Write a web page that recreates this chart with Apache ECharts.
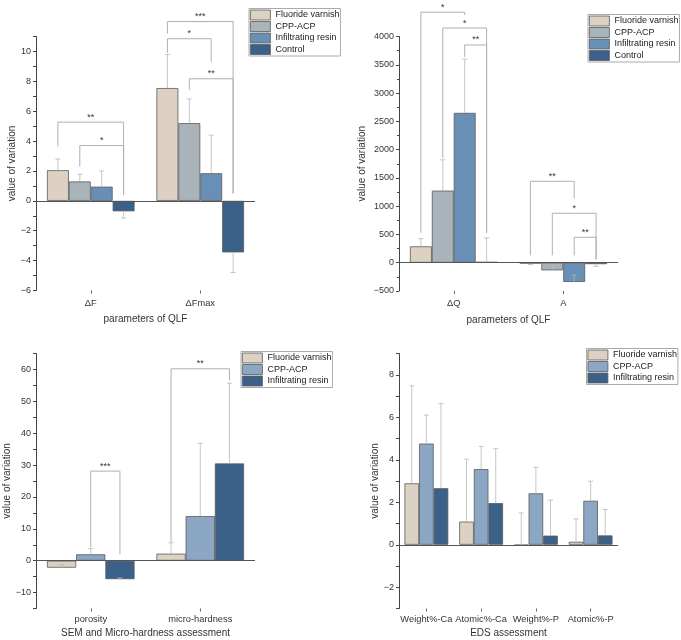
<!DOCTYPE html>
<html>
<head>
<meta charset="utf-8">
<script src="https://cdn.jsdelivr.net/npm/echarts@6/dist/echarts.min.js"></script>
<style>
html, body { margin: 0; padding: 0; background: #fff; }
#main { width: 681px; height: 640px; }
</style>
</head>
<body>
<div id="main"></div>
<script>
// ---- data ----
// panel 1: QLF (ΔF, ΔFmax)
var qlfCats1 = ['ΔF', 'ΔFmax'];
var qlf1FV = [2.05, 7.55];
var qlf1CPP = [1.3, 5.2];
var qlf1IR = [0.95, 1.85];
var qlf1Ctrl = [-0.7, -3.45];
var qlf1FVErr = [2.8, 9.8];
var qlf1CPPErr = [1.78, 6.82];
var qlf1IRErr = [2.0, 4.4];
var qlf1CtrlErr = [-1.15, -4.8];
// [category, left bar, right bar, top, left foot, right foot]
var qlf1Brackets = [[0, 0, 3, 5.27, 3.64, 0.4], [0, 1, 3, 3.7, 2.3, 0.4], [1, 0, 3, 12.0, 11.2, 0.5], [1, 0, 2, 10.85, 9.9, 9.3], [1, 1, 3, 8.17, 7.43, 0.5]];
var qlf1Stars = ['**', '*', '***', '*', '**'];

// panel 2: QLF (ΔQ, A)
var qlfCats2 = ['ΔQ', 'A'];
var qlf2FV = [290, -15];
var qlf2CPP = [1275, -135];
var qlf2IR = [2650, -340];
var qlf2Ctrl = [15, -25];
var qlf2FVErr = [425, -30];
var qlf2CPPErr = [1820, -80];
var qlf2IRErr = [3600, -218];
var qlf2CtrlErr = [440, -65];
var qlf2Brackets = [[0, 0, 2, 4430, 530, 4380], [0, 1, 3, 4150, 1850, 530], [0, 2, 3, 3850, 3640, 530], [1, 0, 2, 1440, 130, 1140], [1, 1, 3, 875, 130, 60], [1, 2, 3, 450, 130, 60]];
var qlf2Stars = ['*', '*', '**', '**', '*', '**'];

// panel 3: SEM and micro-hardness
var semCats = ['porosity', 'micro-hardness'];
var semFV = [-2.2, 2.2];
var semCPP = [2.0, 14.0];
var semIR = [-5.8, 30.5];
var semFVErr = [-1.2, 5.6];
var semCPPErr = [3.8, 36.8];
var semIRErr = [-5.4, 55.7];
var semBrackets = [[0, 1, 2, 28.1, 4.2, 2.1], [1, 0, 2, 60.2, 5.8, 56.5]];
var semStars = ['***', '**'];

// panel 4: EDS
var edsCats = ['Weight%-Ca', 'Atomic%-Ca', 'Weight%-P', 'Atomic%-P'];
var edsFV = [2.89, 1.09, -0.03, 0.14];
var edsCPP = [4.76, 3.56, 2.42, 2.07];
var edsIR = [2.66, 1.96, 0.43, 0.44];
var edsFVErr = [7.48, 4.03, 1.5, 1.22];
var edsCPPErr = [6.1, 4.63, 3.64, 2.99];
var edsIRErr = [6.64, 4.52, 2.1, 1.66];

var C_FV = '#DCD1C2', C_GRAY = '#A9B3BA', C_MID = '#6890B6', C_DARK = '#3B6189', C_LIGHT = '#8CA7C4';
var names4 = ['Fluoride varnish', 'CPP-ACP', 'Infiltrating resin', 'Control'];
var names3 = ['Fluoride varnish', 'CPP-ACP', 'Infiltrating resin'];

var panels = [
  { grid: { left: 36, top: 36.5, width: 219, height: 254 }, cats: qlfCats1, names: names4,
    colors: [C_FV, C_GRAY, C_MID, C_DARK],
    vals: [qlf1FV, qlf1CPP, qlf1IR, qlf1Ctrl], errs: [qlf1FVErr, qlf1CPPErr, qlf1IRErr, qlf1CtrlErr],
    y: { min: -6, max: 11, interval: 1, every: 2 }, yGap: 19, xName: 'parameters of QLF', xGap: 24, xMargin: 8,
    legend: { left: 249, top: 8.5 }, brackets: qlf1Brackets, stars: qlf1Stars },
  { grid: { left: 399, top: 36.5, width: 219, height: 254.5 }, cats: qlfCats2, names: names4,
    colors: [C_FV, C_GRAY, C_MID, C_DARK],
    vals: [qlf2FV, qlf2CPP, qlf2IR, qlf2Ctrl], errs: [qlf2FVErr, qlf2CPPErr, qlf2IRErr, qlf2CtrlErr],
    y: { min: -500, max: 4000, interval: 500, every: 500, minor: true }, yGap: 32, xName: 'parameters of QLF', xGap: 24, xMargin: 8,
    legend: { left: 588, top: 14.5 }, brackets: qlf2Brackets, stars: qlf2Stars },
  { grid: { left: 36, top: 353.5, width: 219, height: 255 }, cats: semCats, names: names3,
    colors: [C_FV, C_LIGHT, C_DARK],
    vals: [semFV, semCPP, semIR], errs: [semFVErr, semCPPErr, semIRErr],
    y: { min: -15, max: 65, interval: 5, every: 10 }, yGap: 23, xName: 'SEM and Micro-hardness assessment', xGap: 20, xMargin: 6,
    legend: { left: 241, top: 351.5 }, brackets: semBrackets, stars: semStars },
  { grid: { left: 399, top: 353.5, width: 219, height: 255 }, cats: edsCats, names: names3,
    colors: [C_FV, C_LIGHT, C_DARK],
    vals: [edsFV, edsCPP, edsIR], errs: [edsFVErr, edsCPPErr, edsIRErr],
    y: { min: -3, max: 9, interval: 1, every: 2 }, yGap: 19, xName: 'EDS assessment', xGap: 20, xMargin: 6,
    legend: { left: 586.5, top: 348.5 }, brackets: [], stars: [] }
];

function errRender(n) {
  return function (params, api) {
    var cat = api.value(0), k = api.value(1), v = api.value(2), e = api.value(3);
    var bw = api.size([1, 0])[0] * 0.8 / n;
    var x = api.coord([cat, 0])[0] + (k - (n - 1) / 2) * bw;
    var y1 = api.coord([cat, v])[1], y2 = api.coord([cat, e])[1];
    var st = { stroke: '#b8b8b8', lineWidth: 0.8 };
    return { type: 'group', children: [
      { type: 'line', shape: { x1: x, y1: y1, x2: x, y2: y2 }, style: st },
      { type: 'line', shape: { x1: x - 2.5, y1: y2, x2: x + 2.5, y2: y2 }, style: st }
    ] };
  };
}

function bracketRender(n, stars) {
  return function (params, api) {
    var cat = api.value(0), kl = api.value(1), kr = api.value(2);
    var bw = api.size([1, 0])[0] * 0.8 / n;
    var cx = api.coord([cat, 0])[0];
    var xl = cx + (kl - (n - 1) / 2) * bw, xr = cx + (kr - (n - 1) / 2) * bw;
    var yt = api.coord([cat, api.value(3)])[1];
    var yl = api.coord([cat, api.value(4)])[1];
    var yr = api.coord([cat, api.value(5)])[1];
    return { type: 'group', children: [
      { type: 'polyline', shape: { points: [[xl, yl], [xl, yt], [xr, yt], [xr, yr]] },
        style: { stroke: '#b0b0b0', lineWidth: 1, fill: 'none' } },
      { type: 'text', x: (xl + xr) / 2, y: yt - 0.5,
        style: { text: stars[params.dataIndex], fontSize: 9, fill: '#333', align: 'center', verticalAlign: 'bottom' } }
    ] };
  };
}

var grids = [], xAxes = [], yAxes = [], series = [], legends = [];
panels.forEach(function (p, g) {
  var n = p.names.length;
  grids.push(Object.assign({ outerBoundsMode: 'none' }, p.grid));
  xAxes.push({
    type: 'category', gridIndex: g, data: p.cats,
    name: p.xName, nameLocation: 'middle', nameGap: p.xGap,
    nameTextStyle: { fontSize: 10, color: '#333' },
    axisLine: { show: false, onZero: false },
    axisTick: { show: true, alignWithLabel: true, length: 3, lineStyle: { color: '#666' } },
    axisLabel: { fontSize: 9.3, color: '#333', margin: p.xMargin, interval: 0, hideOverlap: false },
    splitLine: { show: false }
  });
  yAxes.push({
    type: 'value', gridIndex: g, min: p.y.min, max: p.y.max, interval: p.y.interval,
    name: 'value of variation', nameLocation: 'middle', nameGap: p.yGap,
    nameTextStyle: { fontSize: 10, color: '#333' },
    axisLine: { show: true, lineStyle: { color: '#444', width: 1 } },
    axisTick: { show: true, length: 3, lineStyle: { color: '#444' } },
    minorTick: { show: !!p.y.minor, splitNumber: 2, length: 2, lineStyle: { color: '#444' } },
    axisLabel: { fontSize: 9, color: '#333', margin: 5,
      formatter: function (v) { return Math.round(v) % p.y.every === 0 ? String(v).replace('-', '\u2212') : ''; } },
    splitLine: { show: false }
  });
  p.names.forEach(function (name, k) {
    var s = {
      type: 'bar', name: name, xAxisIndex: g, yAxisIndex: g, data: p.vals[k],
      barGap: '0%', barCategoryGap: '20%',
      itemStyle: { color: p.colors[k], borderColor: '#5a5a5a', borderWidth: 0.8 },
      emphasis: { disabled: true }
    };
    if (k === 0) {
      s.markLine = { silent: true, symbol: 'none', label: { show: false },
        lineStyle: { color: '#555', width: 1, type: 'solid' }, data: [{ yAxis: 0 }] };
    }
    series.push(s);
  });
  var errData = [];
  p.errs.forEach(function (arr, k) {
    arr.forEach(function (e, c) { errData.push([c, k, p.vals[k][c], e]); });
  });
  series.push({ type: 'custom', xAxisIndex: g, yAxisIndex: g, z: 5, silent: true,
    renderItem: errRender(n), encode: { x: 0, y: 2 }, data: errData });
  if (p.brackets.length) {
    series.push({ type: 'custom', xAxisIndex: g, yAxisIndex: g, z: 6, silent: true,
      renderItem: bracketRender(n, p.stars), encode: { x: 0, y: 3 }, data: p.brackets });
  }
  legends.push({
    left: p.legend.left, top: p.legend.top, orient: 'vertical', icon: 'rect',
    itemWidth: 20, itemHeight: 10, itemGap: 0.5, padding: [1, 1, 1, 1],
    borderColor: '#aaa', borderWidth: 1, selectedMode: false,
    textStyle: { fontSize: 9, color: '#222', lineHeight: 11 },
    data: p.names.map(function (name, k) {
      return { name: name, itemStyle: { color: p.colors[k], borderColor: '#5a5a5a', borderWidth: 0.8 } };
    })
  });
});

var myChart = echarts.init(document.getElementById('main'));
myChart.setOption({
  animation: false,
  textStyle: { fontFamily: 'Liberation Sans, Arial, sans-serif' },
  legend: legends,
  grid: grids,
  xAxis: xAxes,
  yAxis: yAxes,
  series: series
});
</script>
</body>
</html>
